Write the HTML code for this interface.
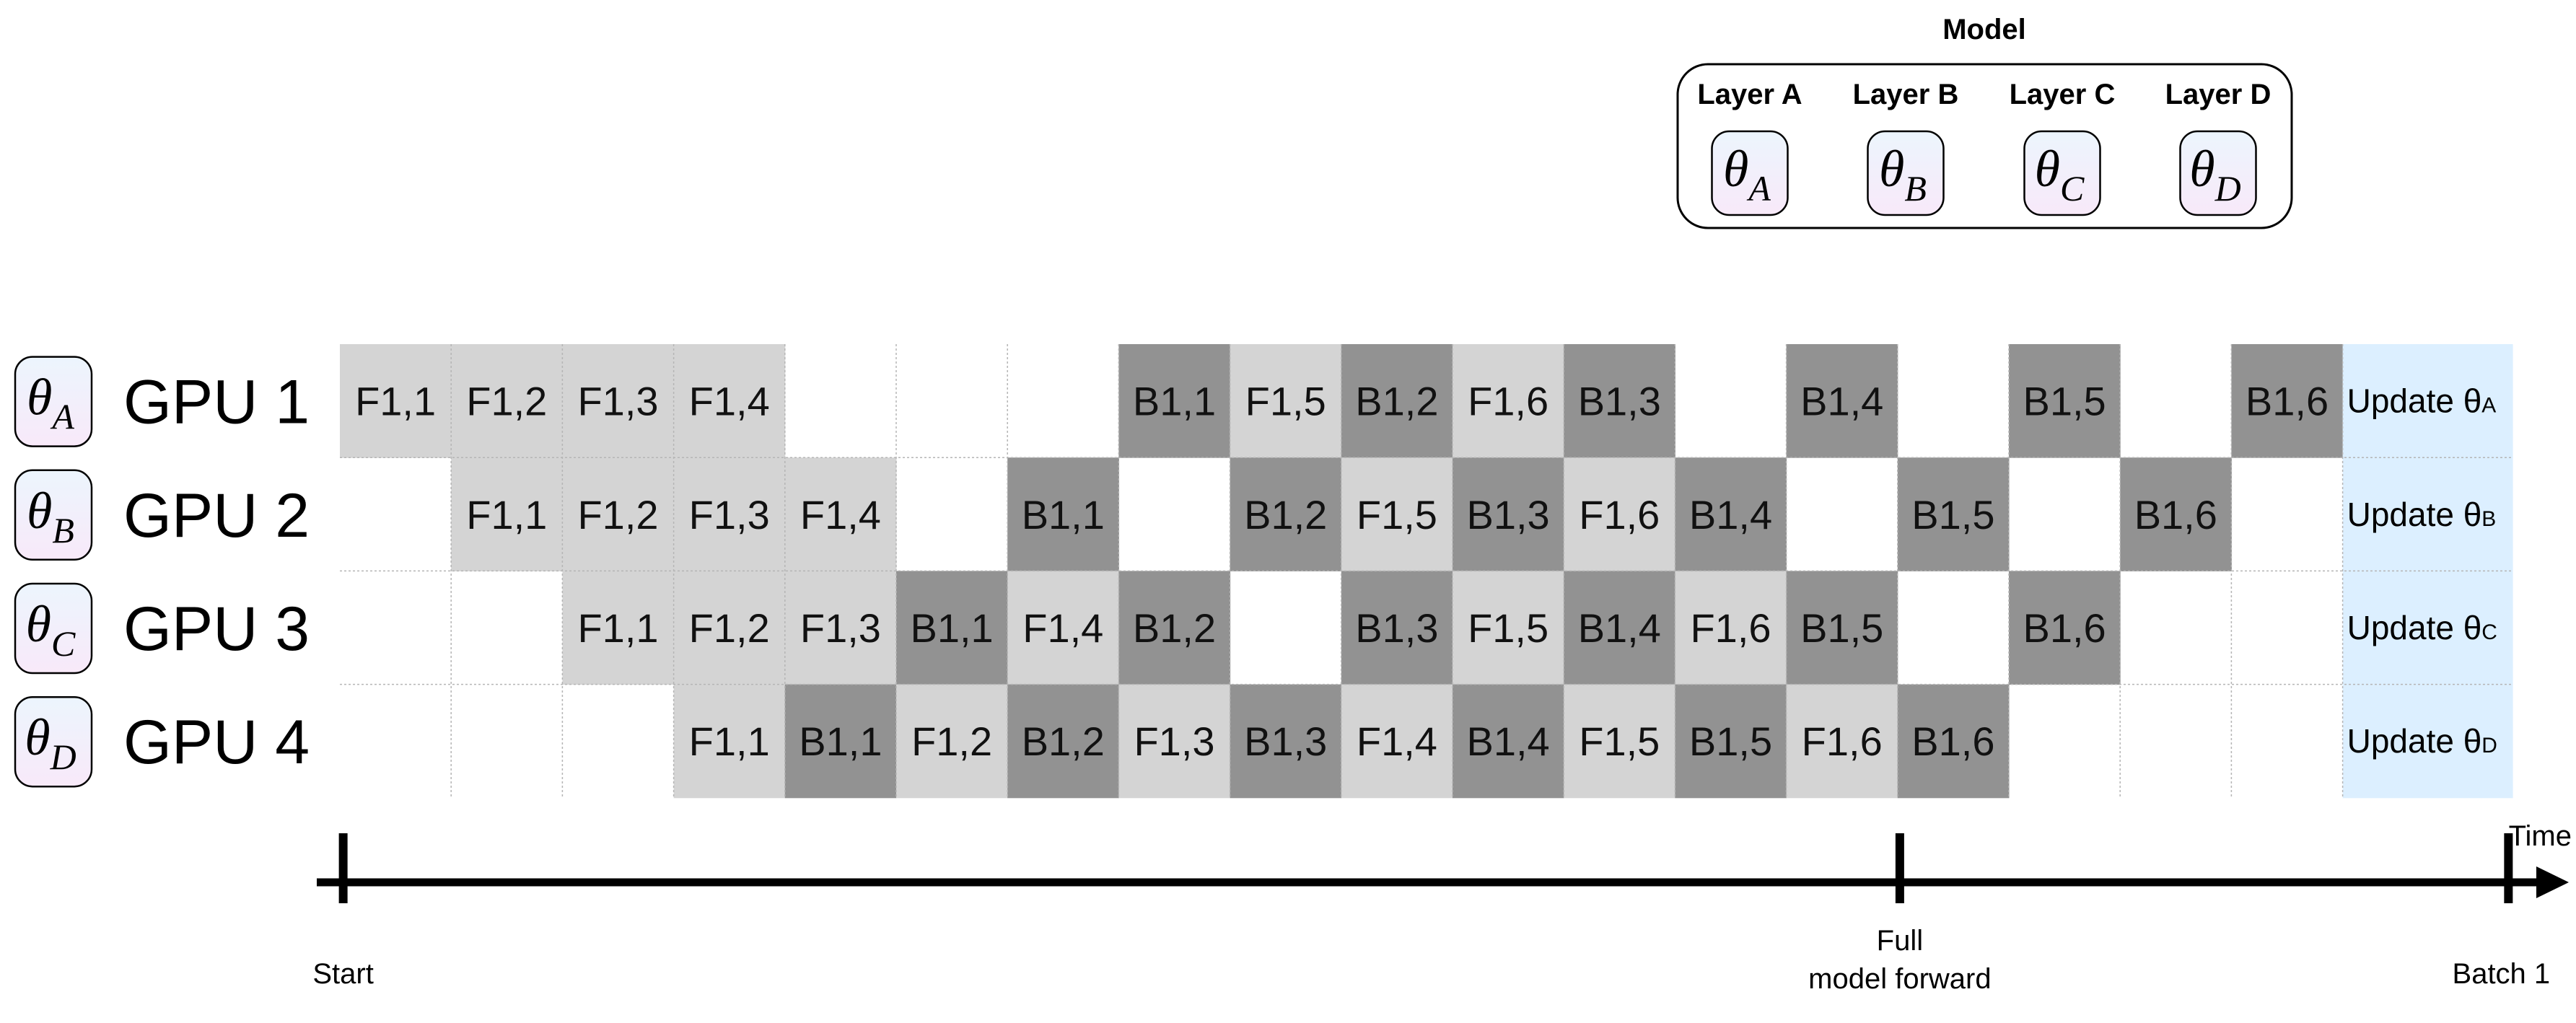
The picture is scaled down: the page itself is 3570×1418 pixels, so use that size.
<!DOCTYPE html>
<html><head><meta charset="utf-8"><style>
html,body{margin:0;padding:0;background:#fff;}
svg{display:block;}
text{font-family:"Liberation Sans",sans-serif;}
.th{font-family:"Liberation Serif",serif;font-style:italic;}
</style></head><body>
<svg id="chart" width="3570" height="1418" viewBox="0 0 3570 1418" xmlns="http://www.w3.org/2000/svg">
<defs>
<linearGradient id="tg" x1="0" y1="0" x2="0" y2="1">
<stop offset="0" stop-color="#ecf5fd"/><stop offset="1" stop-color="#f8e9f9"/>
</linearGradient>
</defs>
<g id="model">
<text x="2750" y="54" text-anchor="middle" font-size="40" font-weight="bold">Model</text>
<rect x="2325" y="89" width="851" height="227" rx="42" fill="none" stroke="#000" stroke-width="3"/>
</g>
<g id="grid"></g>
<g id="labels"></g>
<g id="axis">
<line x1="439" y1="1223" x2="3525" y2="1223" stroke="#000" stroke-width="11"/>
<polygon points="3515,1201 3560,1223 3515,1245" fill="#000"/>
<text x="3564" y="1172" text-anchor="end" font-size="40">Time</text>
</g>
</svg>
<script>
const gpus = ["GPU 1","GPU 2","GPU 3","GPU 4"];
const thetaSubs = ["A","B","C","D"];
const layers = ["Layer A","Layer B","Layer C","Layer D"];
const row1 = ["F1,1","F1,2","F1,3","F1,4","","","","B1,1","F1,5","B1,2","F1,6","B1,3","","B1,4","","B1,5","","B1,6"];
const row2 = ["","F1,1","F1,2","F1,3","F1,4","","B1,1","","B1,2","F1,5","B1,3","F1,6","B1,4","","B1,5","","B1,6",""];
const row3 = ["","","F1,1","F1,2","F1,3","B1,1","F1,4","B1,2","","B1,3","F1,5","B1,4","F1,6","B1,5","","B1,6","",""];
const row4 = ["","","","F1,1","B1,1","F1,2","B1,2","F1,3","B1,3","F1,4","B1,4","F1,5","B1,5","F1,6","B1,6","","",""];
const schedule = [row1,row2,row3,row4];
const milestoneLabels = ["Start","Full|model forward","Batch 1"];
const milestoneSlots = [0.03,14.02,19.49];

const NS="http://www.w3.org/2000/svg";
const grid=document.getElementById('grid');
const labels=document.getElementById('labels');
const X0=471, CW=154.2, Y0=477, RH=157.2, NC=18, UW=236;
const xs=i=>X0+i*CW;
const ys=r=>Y0+r*RH;
function mk(tag,attrs,parent){const e=document.createElementNS(NS,tag);for(const k in attrs)e.setAttribute(k,attrs[k]);parent.appendChild(e);return e;}

function thetaBox(cx,cy,w,h,sub,parent,name){
  const g=mk('g',{},parent);
  
  
  mk('rect',{x:cx-w/2,y:cy-h/2,width:w,height:h,rx:24,fill:'url(#tg)',stroke:'#000','stroke-width':2.5},g);
  const t=mk('text',{x:cx-4,y:cy+18,'text-anchor':'middle','class':'th','font-size':72},g);
  t.textContent='θ';
  const s=mk('tspan',{'font-size':50,dy:20},t);
  s.textContent=sub;
  return g;
}

const lx=[2425,2641,2858,3074];
layers.forEach((l,i)=>{
  const t=mk('text',{x:lx[i],y:144,'text-anchor':'middle','font-size':40,'font-weight':'bold'},document.getElementById('model'));
  
  
  t.textContent=l;
  thetaBox(lx[i],240,105,116,thetaSubs[i],document.getElementById('model'),'layer-param-'+thetaSubs[i].toLowerCase());
});

schedule.forEach((row,r)=>{
  row.forEach((v,c)=>{
    if(!v) return;
    const rc=mk('rect',{x:xs(c),y:ys(r),width:CW+0.5,height:RH+0.5,fill:v[0]==='F'?'#d4d4d4':'#929292'},grid);
    
    
    const t=mk('text',{x:xs(c)+CW/2,y:ys(r)+RH/2+20,'text-anchor':'middle','font-size':56,fill:'#111'},grid);
    
    
    t.textContent=v;
  });
  const u=mk('rect',{x:xs(NC),y:ys(r),width:UW,height:RH+0.5,fill:'#dcefff'},grid);
  
  
  const ut=mk('text',{x:xs(NC)+6,y:ys(r)+RH/2+16,'font-size':46,fill:'#000'},grid);
  
  
  ut.textContent='Update θ';
  const us=mk('tspan',{'font-size':30},ut);
  us.textContent=thetaSubs[r];
  thetaBox(74,ys(r)+RH/2+1,106,124,thetaSubs[r],labels,'gpu-param-'+thetaSubs[r].toLowerCase());
  const gt=mk('text',{x:171,y:ys(r)+RH/2+31,'font-size':86},labels);
  
  
  gt.textContent=gpus[r];
});
for(let c=1;c<=NC;c++){
  const l=mk('line',{x1:xs(c),y1:ys(0),x2:xs(c),y2:ys(4),stroke:'#b5b5b5','stroke-width':1.5,'stroke-dasharray':'3,3'},grid);
  
  
}
for(let r=1;r<4;r++){
  const l=mk('line',{x1:xs(0),y1:ys(r),x2:xs(NC)+UW,y2:ys(r),stroke:'#b5b5b5','stroke-width':1.5,'stroke-dasharray':'3,3'},grid);
  
  
}
const ax=document.getElementById('axis');
milestoneLabels.forEach((lab,i)=>{
  const x=X0+milestoneSlots[i]*CW;
  const tk=mk('rect',{x:x-6,y:1155,width:12,height:97,fill:'#000'},ax);
  
  
  const parts=lab.split('|');
  parts.forEach((p,j)=>{
    const t=mk('text',{x:i===2?x-10:x,y:parts.length>1?1317+j*53:1363,'text-anchor':'middle','font-size':40},ax);
    
    
    t.textContent=p;
  });
});
</script>
</body></html>
